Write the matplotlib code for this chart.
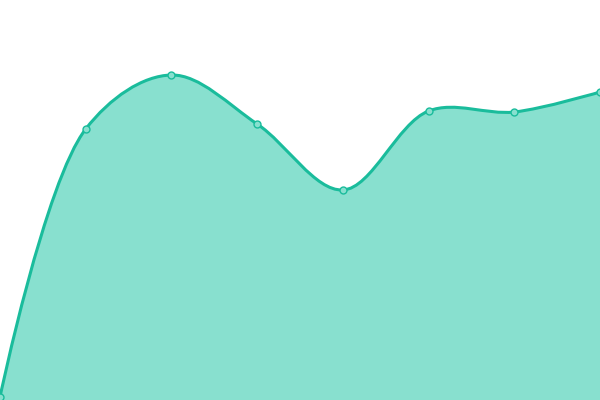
import numpy as np
import matplotlib
matplotlib.use("Agg")
import matplotlib.pyplot as plt
from matplotlib.path import Path
from matplotlib.patches import PathPatch

# ====================================
# DATA
# ====================================

x_values = [0, 1, 2, 3, 4, 5, 6, 7]
y_values = [3, 271, 325, 276, 210, 289, 288, 308]

line_color = "#1abc9c"
fill_color = "#88e0cf"

# ====================================
# CENTRIPETAL CATMULL-ROM AS BEZIER SEGMENTS
# (computed in pixel units, then mapped back)
# ====================================

sx = 600 / 7.0
sy = 1.0
pts = np.column_stack([np.array(x_values, float) * sx,
                       np.array(y_values, float) * sy])
n_pts = len(pts)
alpha = 0.5

verts = [tuple(pts[0])]
codes = [Path.MOVETO]
for i in range(n_pts - 1):
    p1, p2 = pts[i], pts[i + 1]
    p0 = pts[i - 1] if i > 0 else p1
    p3 = pts[i + 2] if i + 2 < n_pts else p2
    d01 = np.linalg.norm(p1 - p0)
    d12 = np.linalg.norm(p2 - p1)
    d23 = np.linalg.norm(p3 - p2)
    l01a, l12a, l23a = d01 ** alpha, d12 ** alpha, d23 ** alpha
    l01_2a, l12_2a, l23_2a = d01 ** (2 * alpha), d12 ** (2 * alpha), d23 ** (2 * alpha)

    c1 = p1.copy()
    if l01a > 1e-9:
        a = 2 * l01_2a + 3 * l01a * l12a + l12_2a
        nn = 3 * l01a * (l01a + l12a)
        c1 = (p1 * a - p0 * l12_2a + p2 * l01_2a) / nn
    c2 = p2.copy()
    if l23a > 1e-9:
        b = 2 * l23_2a + 3 * l23a * l12a + l12_2a
        mm = 3 * l23a * (l23a + l12a)
        c2 = (p2 * b + p1 * l23_2a - p3 * l12_2a) / mm
    verts += [tuple(c1), tuple(c2), tuple(p2)]
    codes += [Path.CURVE4] * 3

verts = [(vx / sx, vy / sy) for vx, vy in verts]

line_path = Path(verts, codes)
fill_path = Path(verts + [(x_values[-1], 0), (x_values[0], 0), verts[0]],
                 codes + [Path.LINETO, Path.LINETO, Path.CLOSEPOLY])

# ====================================
# PLOT
# ====================================

fig = plt.figure(figsize=(6, 4), dpi=100)
ax = fig.add_axes([0, 0, 1, 1])

ax.add_patch(PathPatch(fill_path, facecolor=fill_color, edgecolor="none"))
ax.add_patch(PathPatch(line_path, facecolor="none", edgecolor=line_color,
                       linewidth=2.2, capstyle="round", joinstyle="round"))
ax.plot(x_values, y_values, linestyle="none", marker="o", markersize=5,
        markerfacecolor=fill_color, markeredgecolor=line_color,
        markeredgewidth=1)

ax.set_xlim(0, 7)
ax.set_ylim(0, 400)
ax.axis("off")

plt.savefig("out.png", dpi=100)
plt.close()
